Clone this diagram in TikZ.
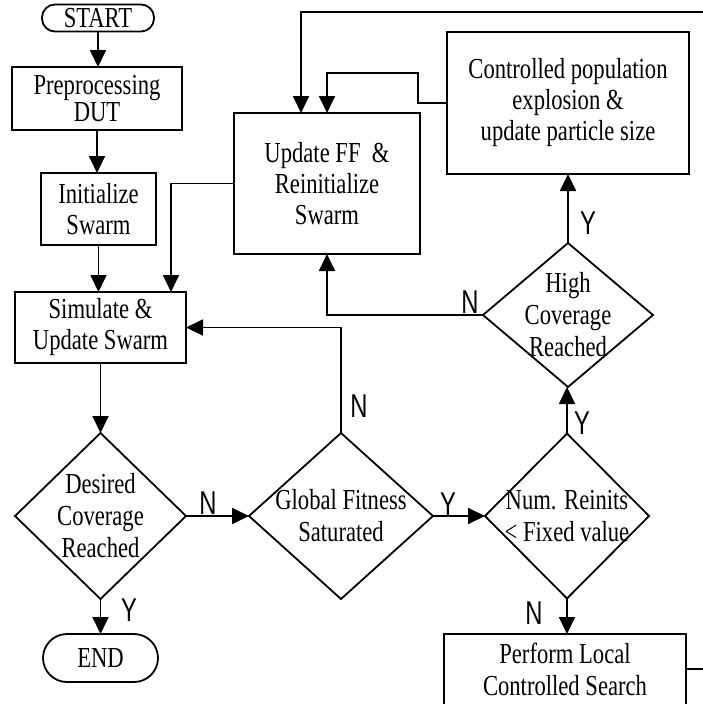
\documentclass[tikz,border=0pt]{standalone}
\usepackage{fontspec}
\newfontfamily\boxfont[FakeStretch=0.78]{Liberation Serif}
\newfontfamily\tagfont[FakeStretch=0.72]{Liberation Sans}
\usetikzlibrary{shapes.geometric,arrows.meta,calc}

\begin{document}
\begin{tikzpicture}[x=1pt, y=-1pt, line width=1.8pt,
  every node/.style={inner sep=0pt, outer sep=0pt},
  box/.style={draw, rectangle, align=center, font=\boxfont\fontsize{29}{31}\selectfont},
  term/.style={box, rounded corners=#1},
  dia/.style={draw, diamond},
  dtext/.style={align=center, font=\boxfont\fontsize{29}{32}\selectfont},
  arr/.style={-{Triangle[length=17pt, width=16pt]}},
  tag/.style={font=\tagfont\fontsize{33}{33}\selectfont}
]
\useasboundingbox (0,0) rectangle (702,704);

% process blocks and terminals
\node[term=13pt, minimum width=112, minimum height=27] (start) at (98,18) {START};
\node[box, minimum width=170, minimum height=63, font=\boxfont\fontsize{29}{20}\selectfont] (pre) at (97,98.5) {Preprocessing\\DUT};
\node[box, minimum width=115, minimum height=72] (init) at (98.5,209) {Initialize\\Swarm};
\node[box, minimum width=171, minimum height=71] (sim) at (100.5,327.5) {Simulate \&\\Update Swarm};
\node[box, minimum width=186, minimum height=141] (upd) at (327,183.5) {Update FF\ \ \&\\Reinitialize\\Swarm};
\node[box, minimum width=242, minimum height=142] (ctrl) at (568,103) {Controlled population\\explosion \&\\update particle size};
\node[term=24pt, minimum width=115, minimum height=48] (end) at (100.5,658) {END};
% the search block runs past the lower edge
\node[draw, rectangle, minimum width=242, minimum height=90,
      label={[dtext, yshift=10pt]center:{Perform Local\\Controlled Search}}] (loc) at (565,679) {};

% decisions
\node[dia, minimum width=171, minimum height=166,
      label={[dtext]center:{Desired\\Coverage\\Reached}}] (des) at (100.5,516) {};
\node[dia, minimum width=184, minimum height=166,
      label={[dtext]center:{Global Fitness\\Saturated}}] (glob) at (341,516) {};
\node[dia, minimum width=164, minimum height=165,
      label={[dtext]center:{Num. Reinits\\< Fixed value}}] (num) at (567,516) {};
\node[dia, minimum width=170, minimum height=144,
      label={[dtext]center:{High\\Coverage\\Reached}}] (high) at (568,315) {};

% main flow
\draw[arr] (start.south) -- (start.south |- pre.north);
\draw[arr] (pre.south) -- (pre.south |- init.north);
\draw[arr] (init.south) -- (init.south |- sim.north);
\draw[arr] (upd.west) -| ($(sim.north east)+(-15,0)$);
\draw[arr] (sim.south) -- (sim.south |- des.north);
\draw[arr] (des.south) -- (des.south |- end.north);
\draw[arr] (des.east) -- (glob.west);
\draw[arr] (glob.north) |- (sim.east);
\draw[arr] (glob.east) -- (num.west);
\draw[arr] (num.north) -- (num.north |- high.south);
\draw[arr] (num.south) -- (num.south |- loc.north);
\draw[arr] (high.north) -- (high.north |- ctrl.south);
\draw[arr] (high.west) -| (upd.south);
\draw[arr] (ctrl.west) -- ++(-29,0) |- ($(upd.north)+(0,-40)$) -- (upd.north);
\coordinate (farR) at (730,12);
\draw[arr] ($(loc.east)+(0,-10)$) -| (farR) -| ($(upd.north west)+(67,0)$);

% branch tags
\node[tag] (tDesN) at (208,503) {N};
\node[tag] (tDesY) at (129,610) {Y};
\node[tag] (tGlobN) at (359,406) {N};
\node[tag] (tGlobY) at (448,504) {Y};
\node[tag] (tNumY) at (582,423) {Y};
\node[tag] (tNumN) at (534,613) {N};
\node[tag] (tHighN) at (470,302) {N};
\node[tag] (tHighY) at (588,223) {Y};
\end{tikzpicture}
\end{document}
